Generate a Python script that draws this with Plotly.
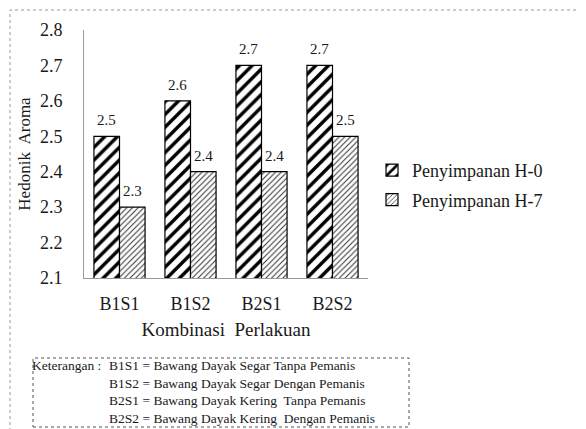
import plotly.graph_objects as go

categories = ["B1S1", "B1S2", "B2S1", "B2S2"]
h0_values = [2.5, 2.6, 2.7, 2.7]
h7_values = [2.3, 2.4, 2.4, 2.5]
series_names = ["Penyimpanan H-0", "Penyimpanan H-7"]
y_ticks = [2.1, 2.2, 2.3, 2.4, 2.5, 2.6, 2.7, 2.8]
notes_label = "Keterangan :"
notes = [
    "B1S1 = Bawang Dayak Segar Tanpa Pemanis",
    "B1S2 = Bawang Dayak Segar Dengan Pemanis",
    "B2S1 = Bawang Dayak Kering  Tanpa Pemanis",
    "B2S2 = Bawang Dayak Kering  Dengan Pemanis",
]

FONT = "Liberation Serif"
TXT = "#1a1a1a"

OFF = 8  # page body margin
W, H = 586 - OFF, 429 - OFF
SX0, SX1, SY0, SY1 = 84, 368, 30, 278
L, R = SX0 - OFF, W - (SX1 - OFF)
T, B = SY0 - OFF, H - (SY1 - OFF)
pw, ph = SX1 - SX0, SY1 - SY0
def px(x):
    return (x - SX0) / pw
def py(y):
    return (SY1 - y) / ph

fig = go.Figure()
fig.add_trace(go.Bar(
    x=categories, y=h0_values, name=series_names[0],
    marker=dict(color="white", line=dict(color="black", width=1.2),
                pattern=dict(shape="/", size=9, solidity=0.38, fgcolor="black", bgcolor="white", fillmode="replace")),
    legendgroup="a",
))
fig.add_trace(go.Bar(
    x=categories, y=h7_values, name=series_names[1],
    marker=dict(color="white", line=dict(color="black", width=1.2),
                pattern=dict(shape="/", size=4, solidity=0.25, fgcolor="#333", bgcolor="white", fillmode="replace")),
    legendgroup="b",
))

for vals, shift in ((h0_values, -13), (h7_values, 13)):
    for c, v in zip(categories, vals):
        fig.add_annotation(x=c, y=v, xshift=shift, yshift=6, yanchor="bottom",
                           text=f"{v:.1f}", showarrow=False,
                           font=dict(family=FONT, size=15, color=TXT))

fig.update_layout(
    width=W, height=H,
    margin=dict(l=L, r=R, t=T, b=B, pad=0, autoexpand=False),
    paper_bgcolor="white", plot_bgcolor="white",
    barmode="group", bargap=0.28, bargroupgap=0,
    font=dict(family=FONT, color=TXT, size=16),
    showlegend=True,
    legend=dict(x=px(372), y=py(152), xanchor="left", yanchor="top",
                font=dict(family=FONT, size=18, color=TXT),
                itemwidth=30, tracegroupgap=3, bgcolor="rgba(0,0,0,0)"),
    xaxis=dict(showline=True, linecolor="#999", linewidth=1, ticks="", automargin=False,
               ticklabelstandoff=9, tickfont=dict(family=FONT, size=18),
               title=dict(text="Kombinasi  Perlakuan", font=dict(family=FONT, size=19), standoff=10)),
    yaxis=dict(range=[2.1, 2.8], tickvals=y_ticks, ticktext=[f"{v:.1f}" for v in y_ticks],
               showline=True, linecolor="#999", linewidth=1, ticks="", showgrid=False, automargin=False,
               zeroline=False, ticklabelstandoff=17, tickfont=dict(family=FONT, size=18),
               title=dict(text="Hedonik  Aroma", font=dict(family=FONT, size=17), standoff=4)),
)

fig.add_shape(type="rect", xref="paper", yref="paper",
              x0=px(10), x1=px(700), y0=py(600), y1=py(10),
              line=dict(color="#999", width=1, dash="dot"))
fig.add_shape(type="rect", xref="paper", yref="paper",
              x0=px(33), x1=px(409), y0=py(427), y1=py(358),
              line=dict(color="#555", width=1, dash="dot"))
fig.add_annotation(xref="paper", yref="paper", x=px(30), y=py(356), xanchor="left", yanchor="top",
                   text=notes_label, showarrow=False, align="left",
                   font=dict(family=FONT, size=13.5, color=TXT))
fig.add_annotation(xref="paper", yref="paper", x=px(107), y=py(356), xanchor="left", yanchor="top",
                   text="<br>".join(notes), showarrow=False, align="left",
                   font=dict(family=FONT, size=13.5, color=TXT))

fig.write_html("out.html")
